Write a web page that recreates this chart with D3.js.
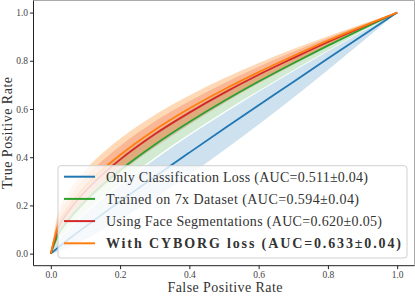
<!DOCTYPE html>
<html><head><meta charset="utf-8">
<script src="https://cdn.jsdelivr.net/npm/d3@7"></script>
<style>html,body{margin:0;padding:0;background:#fff;}svg{display:block;}</style>
</head><body>
<svg id="chart" width="415" height="297"></svg>
<script>
// ---- data ----
const fpr = [0, 0.02, 0.05, 0.1, 0.15, 0.2, 0.3, 0.4, 0.5, 0.6, 0.7, 0.8, 0.9, 1.0];

const blueMean  = [0, 0.024, 0.058, 0.112, 0.165, 0.217, 0.319, 0.419, 0.518, 0.616, 0.712, 0.809, 0.905, 1];
const blueUpper = [0, 0.047, 0.097, 0.166, 0.228, 0.285, 0.391, 0.490, 0.582, 0.671, 0.757, 0.840, 0.921, 1];
const blueLower = [0, 0.009, 0.026, 0.060, 0.099, 0.140, 0.230, 0.327, 0.429, 0.536, 0.647, 0.762, 0.880, 1];

const greenMean  = [0, 0.076, 0.138, 0.219, 0.286, 0.346, 0.452, 0.546, 0.633, 0.714, 0.790, 0.863, 0.933, 1];
const greenUpper = [0, 0.108, 0.181, 0.269, 0.339, 0.400, 0.503, 0.593, 0.674, 0.747, 0.816, 0.881, 0.942, 1];
const greenLower = [0, 0.050, 0.101, 0.172, 0.234, 0.292, 0.398, 0.496, 0.589, 0.676, 0.761, 0.843, 0.923, 1];

const redMean  = [0, 0.101, 0.173, 0.260, 0.330, 0.390, 0.495, 0.585, 0.667, 0.742, 0.811, 0.878, 0.940, 1];
const redUpper = [0, 0.141, 0.224, 0.316, 0.387, 0.447, 0.548, 0.632, 0.707, 0.775, 0.837, 0.894, 0.949, 1];
const redLower = [0, 0.070, 0.130, 0.209, 0.275, 0.335, 0.441, 0.536, 0.624, 0.707, 0.784, 0.859, 0.931, 1];

const orangeMean  = [0, 0.114, 0.190, 0.279, 0.349, 0.409, 0.513, 0.602, 0.681, 0.753, 0.820, 0.884, 0.943, 1];
const orangeUpper = [0, 0.165, 0.252, 0.347, 0.418, 0.477, 0.575, 0.656, 0.727, 0.791, 0.849, 0.902, 0.953, 1];
const orangeLower = [0, 0.076, 0.138, 0.219, 0.286, 0.346, 0.452, 0.546, 0.633, 0.714, 0.790, 0.863, 0.933, 1];

const seriesNames = [
  "Only Classification Loss (AUC=0.511\u00B10.04)",
  "Trained on 7x Dataset (AUC=0.594\u00B10.04)",
  "Using Face Segmentations (AUC=0.620\u00B10.05)",
  "With CYBORG loss (AUC=0.633\u00B10.04)"
];
const seriesColors = ["#1f77b4", "#2ca02c", "#d62728", "#ff7f0e"];
const seriesBold = [false, false, false, true];
const tickValues = [0, 0.2, 0.4, 0.6, 0.8, 1.0];
const xLabel = "False Positive Rate";
const yLabel = "True Positive Rate";

const series = [
  {mean: blueMean, upper: blueUpper, lower: blueLower},
  {mean: greenMean, upper: greenUpper, lower: greenLower},
  {mean: redMean, upper: redUpper, lower: redLower},
  {mean: orangeMean, upper: orangeUpper, lower: orangeLower}
].map((s, i) => Object.assign(s, {name: seriesNames[i], color: seriesColors[i], bold: seriesBold[i]}));

// ---- drawing ----
const svg = d3.select("#chart");
const L = 33.5, R = 414.5, T = 0.5, B = 265.7;
const x = d3.scaleLinear().domain([-0.05, 1.05]).range([L, R]);
const y = d3.scaleLinear().domain([-0.05, 1.05]).range([B, T]);
const serif = "'Liberation Serif', 'DejaVu Serif', serif";

const area = d3.area().x((d, i) => x(fpr[i])).y0(d => y(d[0])).y1(d => y(d[1])).curve(d3.curveMonotoneX);
const line = d3.line().x((d, i) => x(fpr[i])).y(d => y(d)).curve(d3.curveMonotoneX);

const plot = svg.append("g");
series.forEach((s, k) => {
  plot.append("path")
    .datum(s.lower.map((v, i) => [v, s.upper[i]]))
    .attr("d", area)
    .attr("fill", s.color).attr("fill-opacity", k === 3 ? 0.3 : 0.22).attr("stroke", "none");
});
series.forEach(s => {
  plot.append("path").datum(s.mean).attr("d", line)
    .attr("fill", "none").attr("stroke", s.color).attr("stroke-width", 1.8);
});

// spines
svg.append("line").attr("x1", L).attr("x2", R).attr("y1", T).attr("y2", T).attr("stroke", "#aaa").attr("stroke-width", 1);
svg.append("line").attr("x1", R).attr("x2", R).attr("y1", T).attr("y2", B).attr("stroke", "#aaa").attr("stroke-width", 1);

// axes
const xAxis = svg.append("g").attr("transform", `translate(0,${B})`)
  .call(d3.axisBottom(x).tickValues(tickValues).tickFormat(d3.format(".1f")).tickSize(3.5).tickPadding(2));
const yAxis = svg.append("g").attr("transform", `translate(${L},0)`)
  .call(d3.axisLeft(y).tickValues(tickValues).tickFormat(d3.format(".1f")).tickSize(3.5).tickPadding(2));
[xAxis, yAxis].forEach(a => {
  a.select(".domain").attr("stroke", "#222").attr("stroke-width", 1);
  a.selectAll(".tick line").attr("stroke", "#222");
  a.selectAll("text").attr("font-family", serif).attr("font-size", 9.5).attr("fill", "#444");
});
xAxis.select(".domain").attr("d", `M${L},0H${R}`);
yAxis.select(".domain").attr("d", `M0,${B}V${T}`);

svg.append("text").attr("x", 225).attr("y", 292).attr("text-anchor", "middle")
  .attr("font-family", serif).attr("font-size", 14).attr("fill", "#333")
  .attr("textLength", 115).attr("lengthAdjust", "spacing").text(xLabel);
svg.append("text").attr("transform", "translate(12,133) rotate(-90)").attr("text-anchor", "middle")
  .attr("font-family", serif).attr("font-size", 14).attr("fill", "#333")
  .attr("textLength", 112).attr("lengthAdjust", "spacing").text(yLabel);

// legend
const legendWidths = [262, 253, 276, 295];
const lg = svg.append("g");
lg.append("rect").attr("x", 58).attr("y", 165.7).attr("width", 349).attr("height", 92.3)
  .attr("rx", 3).attr("fill", "#fff").attr("fill-opacity", 0.8).attr("stroke", "#d0d0d0").attr("stroke-width", 1);
const rowY = d3.scalePoint().domain(d3.range(series.length)).range([176.7, 243.3]);
series.forEach((s, i) => {
  const yy = rowY(i);
  lg.append("line").attr("x1", 64).attr("x2", 95).attr("y1", yy).attr("y2", yy)
    .attr("stroke", s.color).attr("stroke-width", 2);
  lg.append("text").attr("x", 106).attr("y", yy).attr("dy", "0.35em")
    .attr("font-family", serif).attr("font-size", 14).attr("font-weight", s.bold ? "bold" : "normal")
    .attr("textLength", legendWidths[i]).attr("lengthAdjust", "spacing")
    .attr("fill", "#333").text(s.name);
});
</script>
</body></html>
